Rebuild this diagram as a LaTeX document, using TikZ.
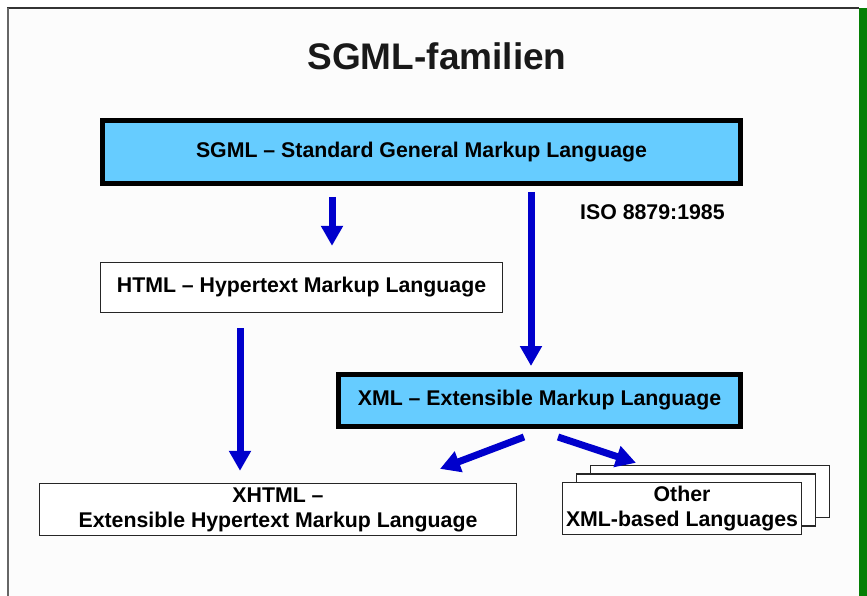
\documentclass[tikz,border=0pt]{standalone}
\usepackage{fontspec}
\setmainfont{Liberation Sans}
\usetikzlibrary{arrows.meta,calc}
\definecolor{boxblue}{HTML}{66CCFF}
\definecolor{arrblue}{HTML}{0000CC}
\definecolor{barGreen}{HTML}{057F05}
\tikzset{
  lbl/.style={font=\fontsize{21.3}{24}\selectfont\bfseries, align=center, inner sep=0pt},
  thickbox/.style={lbl, draw=black, line width=5pt, fill=boxblue},
  thinbox/.style={lbl, draw=black!85, line width=1.3pt, fill=white},
  arr/.style={draw=arrblue, line width=7pt, -{Triangle[width=21pt,length=20pt]}},
}
\begin{document}
\begin{tikzpicture}[x=1pt,y=-1pt]
\useasboundingbox (0,0) rectangle (867,596);
% background and frame
\fill[white] (0,0) rectangle (867,596);
\fill[black!1] (8,8) rectangle (859,596);
\draw[black!80, line width=1.5pt] (7,8) -- (859,8);
\draw[black!60, line width=2pt] (8,8) -- (8,596);
\fill[barGreen] (859,8) rectangle (867,596);
% title
\node[font=\fontsize{37}{40}\selectfont\bfseries, text=black!90] (title) at (437,56) {SGML-familien};
% boxes
\node[thickbox, minimum width=638pt, minimum height=63pt] (sgml) at (421.5,152) {SGML -- Standard General Markup Language};
\node[lbl, anchor=west] (iso) at (580,212) {ISO 8879:1985};
\node[thinbox, minimum width=402pt, minimum height=50pt] (html) at (301.5,287.5) {HTML -- Hypertext Markup Language};
\node[thickbox, minimum width=402pt, minimum height=52pt] (xml) at (539.5,400.5) {XML -- Extensible Markup Language};
\node[thinbox, minimum width=477pt, minimum height=52pt] (xhtml) at (278,509.5) {XHTML --\\[1pt]Extensible Hypertext Markup Language};
\node[thinbox, minimum width=239pt, minimum height=52pt] (oth3) at (710,491.5) {};
\node[thinbox, minimum width=239pt, minimum height=52pt] (oth2) at (696,500) {};
\node[thinbox, minimum width=239pt, minimum height=52pt] (oth1) at (682,508.5) {Other\\[1pt]XML-based Languages};
% arrows
\draw[arr, shorten >=16pt] ([xshift=-89.5pt,yshift=-11pt]sgml.south) coordinate (a1) -- (a1 |- html.north);
\draw[arr, shorten >=6pt] ([xshift=109.5pt,yshift=-6pt]sgml.south) coordinate (a2) -- (a2 |- xml.north);
\draw[arr, shorten >=12pt] ([xshift=-61.5pt,yshift=-15pt]html.south) coordinate (a3) -- (a3 |- xhtml.north);
\draw[arr] ([xshift=-15.5pt,yshift=-8pt]xml.south) -- ([xshift=162pt,yshift=14pt]xhtml.north);
\draw[arr] ([xshift=18.5pt,yshift=-8pt]xml.south) -- ([xshift=-74pt,yshift=2pt]oth3.north);
\end{tikzpicture}
\end{document}
